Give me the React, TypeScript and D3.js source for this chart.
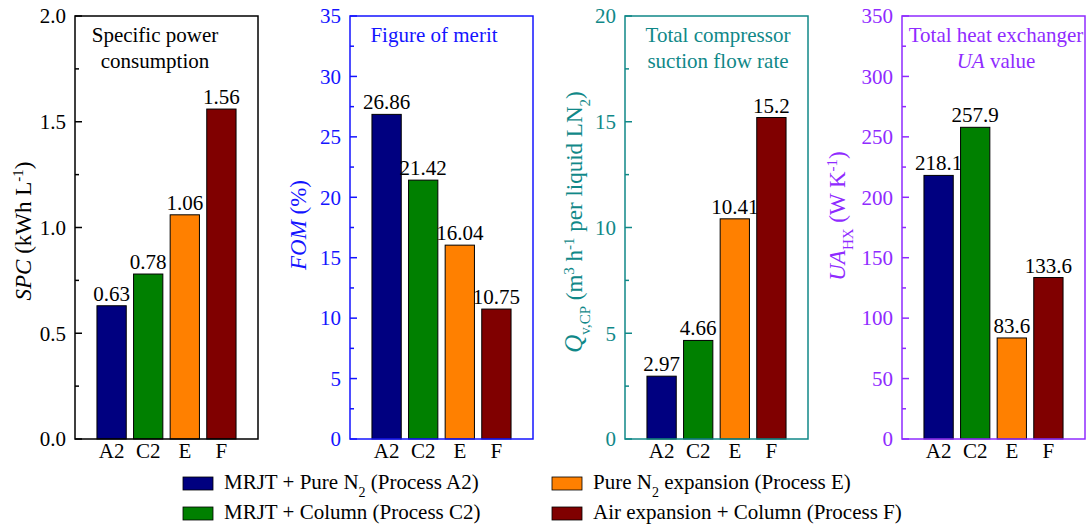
import React from "react";
import * as d3 from "d3";

const categories = ["A2", "C2", "E", "F"];
const spcValues = [0.63, 0.78, 1.06, 1.56];
const fomValues = [26.86, 21.42, 16.04, 10.75];
const flowValues = [2.97, 4.66, 10.41, 15.2];
const uaValues = [218.1, 257.9, 83.6, 133.6];
const barColors = ["#000080", "#008000", "#FF8000", "#800000"];
const legendItems = [
  { pre: "MRJT + Pure N", sub: "2", post: " (Process A2)" },
  { pre: "MRJT + Column (Process C2)", sub: "", post: "" },
  { pre: "Pure N", sub: "2", post: " expansion (Process E)" },
  { pre: "Air expansion + Column (Process F)", sub: "", post: "" },
];

const FONT = '"Liberation Serif", "Times New Roman", Times, serif';
const FS = 21;
const YFS = 23;
const TOP = 16;
const BOTTOM = 439;
const PW = 183;

type Panel = {
  left: number;
  values: number[];
  max: number;
  major: number;
  fmt: (v: number) => string;
  color: string;
  title: React.ReactNode[];
  titleX: number;
  ylabel: React.ReactNode;
  ylabelX: number;
  ylabelY: number;
};

const sup = (t: string, fs = 15) => (
  <tspan baselineShift="super" fontSize={fs}>{t}</tspan>
);
const sub = (t: string, fs = 15) => (
  <tspan baselineShift="sub" fontSize={fs}>{t}</tspan>
);

const panels: Panel[] = [
  {
    left: 75,
    values: spcValues,
    max: 2,
    major: 0.5,
    fmt: d3.format(".1f"),
    color: "#000000",
    title: [<tspan>Specific power</tspan>, <tspan>consumption</tspan>],
    titleX: 155,
    ylabel: (
      <>
        <tspan fontStyle="italic">SPC</tspan>
        <tspan> (kWh L</tspan>
        {sup("-1")}
        <tspan>)</tspan>
      </>
    ),
    ylabelX: 31,
    ylabelY: 231,
  },
  {
    left: 350,
    values: fomValues,
    max: 35,
    major: 5,
    fmt: d3.format("d"),
    color: "#1414FF",
    title: [<tspan>Figure of merit</tspan>],
    titleX: 434,
    ylabel: (
      <>
        <tspan fontStyle="italic">FOM</tspan>
        <tspan> (%)</tspan>
      </>
    ),
    ylabelX: 306,
    ylabelY: 225,
  },
  {
    left: 625,
    values: flowValues,
    max: 20,
    major: 5,
    fmt: d3.format("d"),
    color: "#108888",
    title: [<tspan>Total compressor</tspan>, <tspan>suction flow rate</tspan>],
    titleX: 718,
    ylabel: (
      <>
        <tspan fontStyle="italic" fontSize="25">Q</tspan>
        {sub("v,CP")}
        <tspan> (m</tspan>
        {sup("3")}
        <tspan> h</tspan>
        {sup("-1")}
        <tspan> per liquid LN</tspan>
        {sub("2")}
        <tspan>)</tspan>
      </>
    ),
    ylabelX: 582,
    ylabelY: 222,
  },
  {
    left: 902,
    values: uaValues,
    max: 350,
    major: 50,
    fmt: d3.format("d"),
    color: "#8F2BFF",
    title: [
      <tspan>Total heat exchanger</tspan>,
      <>
        <tspan fontStyle="italic">UA</tspan>
        <tspan> value</tspan>
      </>,
    ],
    titleX: 996,
    ylabel: (
      <>
        <tspan fontStyle="italic">UA</tspan>
        {sub("HX")}
        <tspan> (W K</tspan>
        {sup("-1")}
        <tspan>)</tspan>
      </>
    ),
    ylabelX: 845,
    ylabelY: 216,
  },
];

const txt = { fontFamily: FONT };

function PanelView({ p }: { p: Panel }) {
  const y = d3.scaleLinear().domain([0, p.max]).range([BOTTOM, TOP]);
  const x = d3.scaleLinear().domain([0, categories.length + 1]).range([p.left, p.left + PW]);
  const step = x(1) - x(0);
  const bw = step * 0.8;
  const majors = d3.range(0, p.max + p.major / 2, p.major);
  const minors = d3.range(p.major / 2, p.max, p.major);
  return (
    <g>
      {categories.map((c, i) => (
        <g key={c}>
          <rect
            x={x(i + 1) - bw / 2}
            y={y(p.values[i])}
            width={bw}
            height={y(0) - y(p.values[i])}
            fill={barColors[i]}
            stroke="#000"
            strokeWidth={1}
          />
          <text
            x={x(i + 1)}
            y={y(p.values[i]) - 5}
            textAnchor="middle"
            fontSize={FS}
            fill="#000"
            style={txt}
          >
            {String(p.values[i])}
          </text>
          <text x={x(i + 1)} y={BOTTOM + 19} textAnchor="middle" fontSize={FS} fill="#000" style={txt}>
            {c}
          </text>
        </g>
      ))}
      {majors.map((t) => (
        <g key={"M" + t}>
          <line x1={p.left} x2={p.left + 7} y1={y(t)} y2={y(t)} stroke={p.color} strokeWidth={1.5} />
          <text
            x={p.left - 9}
            y={y(t)}
            dy="0.35em"
            textAnchor="end"
            fontSize={FS}
            fill={p.color}
            style={txt}
          >
            {p.fmt(t)}
          </text>
        </g>
      ))}
      {minors.map((t) => (
        <line key={"m" + t} x1={p.left} x2={p.left + 4} y1={y(t)} y2={y(t)} stroke={p.color} strokeWidth={1.5} />
      ))}
      <rect
        x={p.left}
        y={TOP}
        width={PW}
        height={BOTTOM - TOP}
        fill="none"
        stroke={p.color}
        strokeWidth={1.5}
      />
      {p.title.map((t, i) => (
        <text key={i} x={p.titleX} y={42 + i * 26} textAnchor="middle" fontSize={FS} fill={p.color} style={txt}>
          {t}
        </text>
      ))}
      <text
        transform={`translate(${p.ylabelX},${p.ylabelY}) rotate(-90)`}
        textAnchor="middle"
        fontSize={YFS}
        fill={p.color}
        style={txt}
      >
        {p.ylabel}
      </text>
    </g>
  );
}

export default function App() {
  const legendPos = [
    [183, 477],
    [183, 507],
    [552, 477],
    [552, 507],
  ];
  return (
    <svg
      width={1088}
      height={524}
      style={{ position: "absolute", left: 0, top: 0, background: "#fff", fontFamily: FONT }}
    >
      {panels.map((p, i) => (
        <PanelView key={i} p={p} />
      ))}
      {legendItems.map((l, i) => {
        const [lx, ly] = legendPos[i];
        return (
          <g key={i}>
            <rect x={lx} y={ly} width={30} height={13} fill={barColors[i]} stroke="#000" strokeWidth={0.8} />
            <text x={lx + 41} y={ly + 12} fontSize={FS} fill="#000" style={txt}>
              <tspan>{l.pre}</tspan>
              {l.sub ? sub(l.sub, 14) : null}
              {l.post ? <tspan>{l.post}</tspan> : null}
            </text>
          </g>
        );
      })}
    </svg>
  );
}
